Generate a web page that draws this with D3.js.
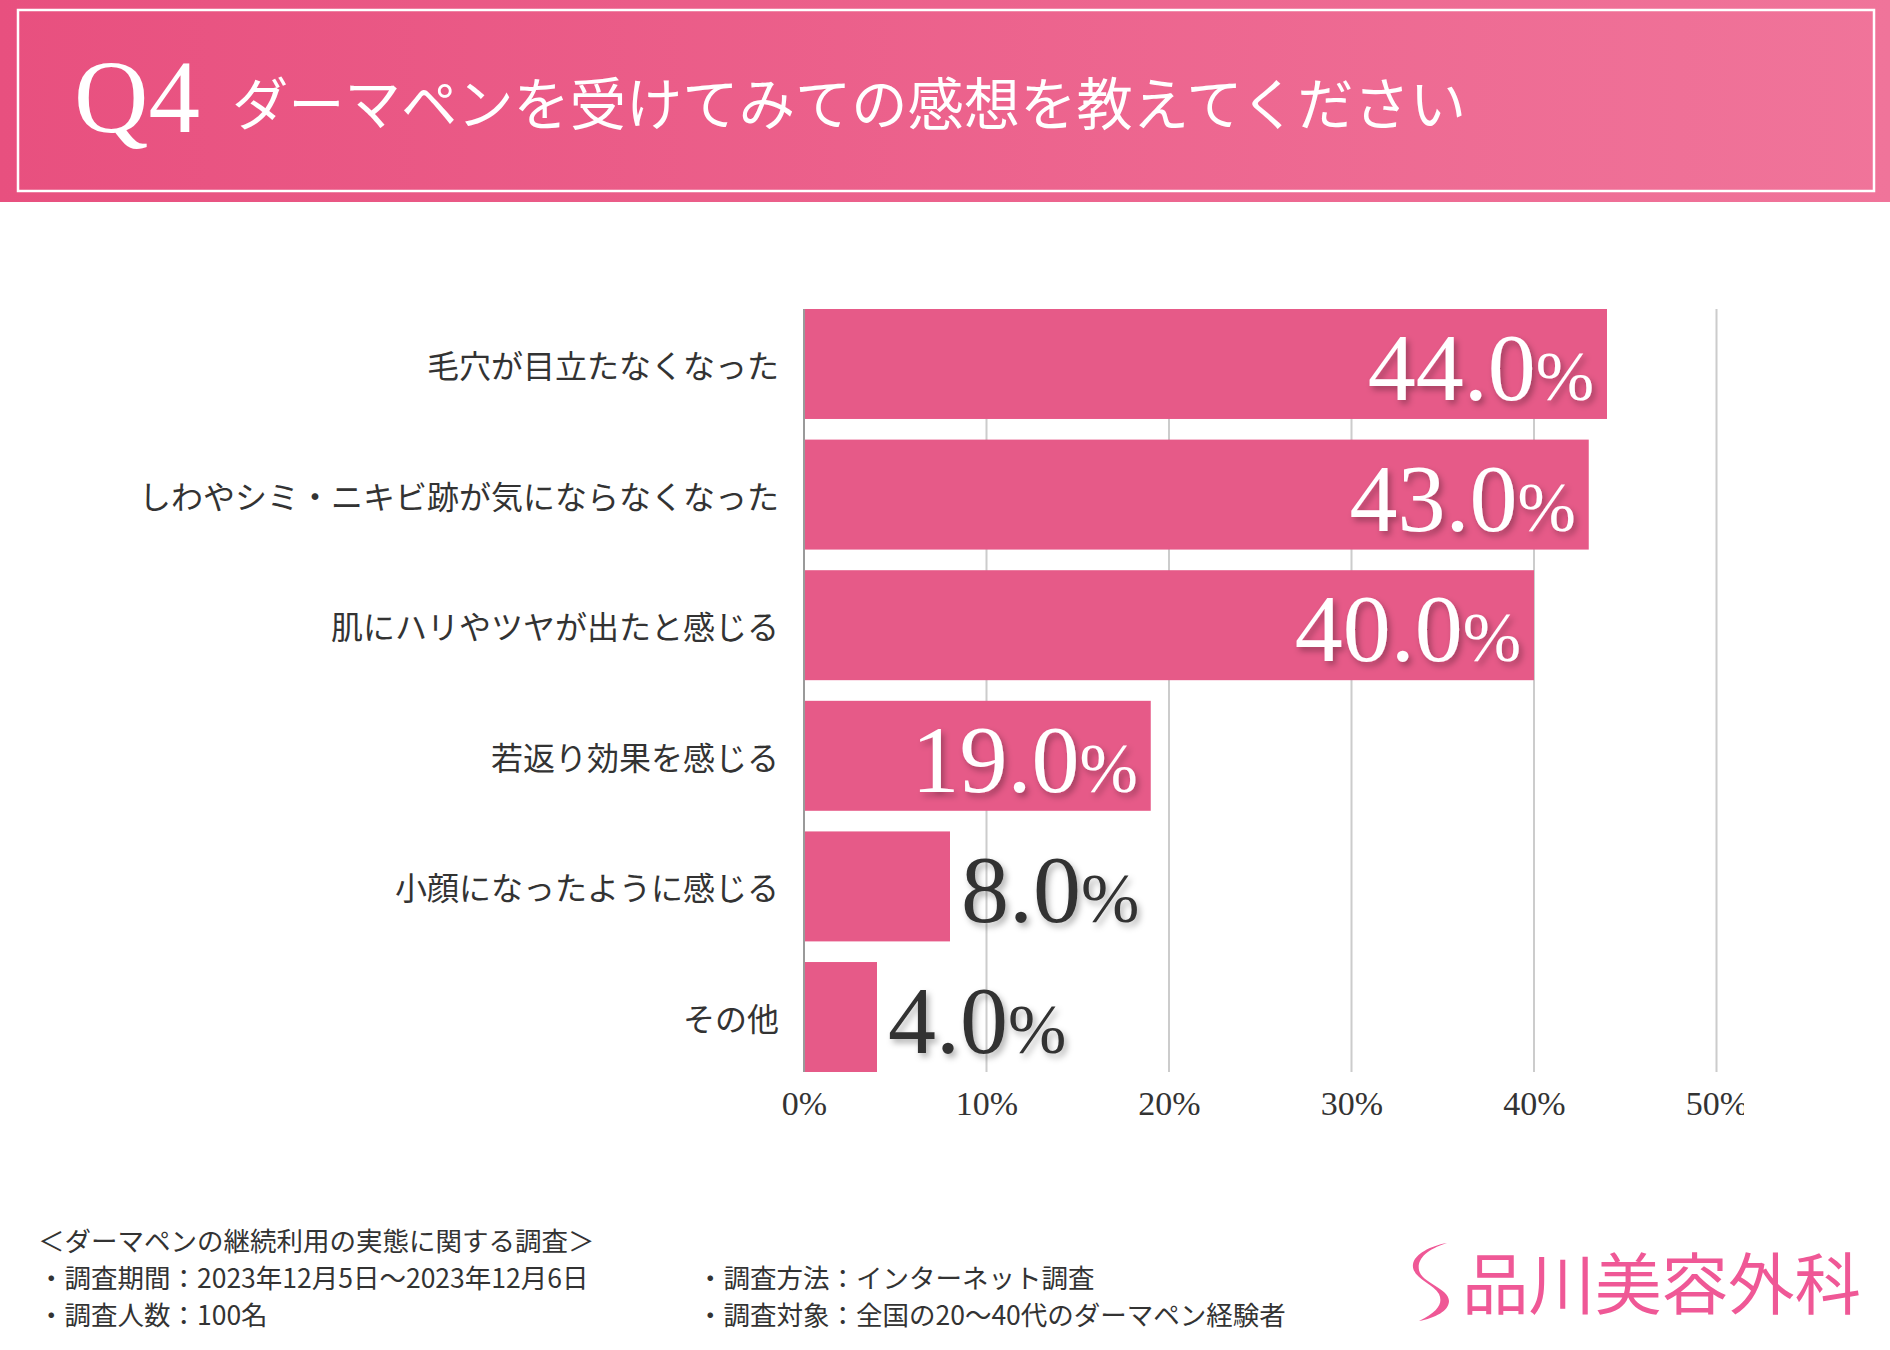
<!DOCTYPE html>
<html>
<head>
<meta charset="utf-8">
<script src="https://cdn.jsdelivr.net/npm/d3@7"></script>
<style>
  body { margin: 0; background: #ffffff; }
  svg { display: block; }
</style>
</head>
<body>
<div id="chart"></div>
<script>

// chart data
var categories = ["毛穴が目立たなくなった", "しわやシミ・ニキビ跡が気にならなくなった",
  "肌にハリやツヤが出たと感じる", "若返り効果を感じる", "小顔になったように感じる", "その他"];
var values = [44.0, 43.0, 40.0, 19.0, 8.0, 4.0];
var tickValues = [0, 10, 20, 30, 40, 50];

// texts
var qNumber = "Q4";
var title = "ダーマペンを受けてみての感想を教えてください";
var surveyTitle = "＜ダーマペンの継続利用の実態に関する調査＞";
var surveyLeft = ["・調査期間：2023年12月5日〜2023年12月6日", "・調査人数：100名"];
var surveyRight = ["・調査方法：インターネット調査", "・調査対象：全国の20〜40代のダーマペン経験者"];
var logoText = "品川美容外科";

var width = 1890, height = 1350;
var serif = "'Liberation Serif', 'DejaVu Serif', serif";
var jp = "'Noto Sans CJK JP', 'Noto Sans', sans-serif";

var svg = d3.select("#chart").append("svg")
  .attr("width", width)
  .attr("height", height);

var defs = svg.append("defs");

// header gradient
var grad = defs.append("linearGradient")
  .attr("id", "headGrad")
  .attr("x1", "0%").attr("x2", "100%")
  .attr("y1", "0%").attr("y2", "0%");
grad.append("stop").attr("offset", "0%").attr("stop-color", "#e8507f");
grad.append("stop").attr("offset", "100%").attr("stop-color", "#f0749a");

// soft shadow for value labels
var shadow = defs.append("filter")
  .attr("id", "shadow")
  .attr("x", "-20%").attr("y", "-20%")
  .attr("width", "140%").attr("height", "140%");
shadow.append("feDropShadow")
  .attr("dx", 3).attr("dy", 4)
  .attr("stdDeviation", 3)
  .attr("flood-color", "#000")
  .attr("flood-opacity", 0.3);

// clip for the axis labels (last one is cut off on the right)
defs.append("clipPath").attr("id", "tickClip")
  .append("rect")
  .attr("x", 0).attr("y", -60)
  .attr("width", 1744).attr("height", 120);

// header band
svg.append("rect")
  .attr("x", 0).attr("y", 0)
  .attr("width", width).attr("height", 202)
  .attr("fill", "url(#headGrad)");

svg.append("rect")
  .attr("x", 18).attr("y", 10)
  .attr("width", 1856).attr("height", 181)
  .attr("fill", "none")
  .attr("stroke", "#ffffff")
  .attr("stroke-width", 2.5);

svg.append("text")
  .attr("x", 74).attr("y", 132)
  .attr("font-family", serif)
  .attr("font-size", 103)
  .attr("fill", "#ffffff")
  .text(qNumber);

svg.append("text")
  .attr("x", 232).attr("y", 100)
  .attr("dominant-baseline", "central")
  .attr("font-family", jp)
  .attr("font-size", 56.3)
  .attr("fill", "#ffffff")
  .text(title);

// scales
var x = d3.scaleLinear()
  .domain([0, 50])
  .range([804, 1716.5]);

var y = d3.scaleBand()
  .domain(categories)
  .range([309, 1072])
  .paddingInner(0.158)
  .paddingOuter(0);

// grid lines
svg.append("g")
  .selectAll("line")
  .data(tickValues.slice(1))
  .enter()
  .append("line")
  .attr("x1", function(d) { return x(d); })
  .attr("x2", function(d) { return x(d); })
  .attr("y1", 309).attr("y2", 1072)
  .attr("stroke", "#cccccc")
  .attr("stroke-width", 2);

// bars
svg.append("g")
  .selectAll("rect")
  .data(values)
  .enter()
  .append("rect")
  .attr("x", x(0))
  .attr("y", function(d, i) { return y(categories[i]); })
  .attr("width", function(d) { return x(d) - x(0); })
  .attr("height", y.bandwidth())
  .attr("fill", "#e65a88");

// zero axis line
svg.append("line")
  .attr("x1", x(0)).attr("x2", x(0))
  .attr("y1", 309).attr("y2", 1072)
  .attr("stroke", "#9a9a9a")
  .attr("stroke-width", 2);

// x axis labels
var xAxis = d3.axisBottom(x)
  .tickValues(tickValues)
  .tickSize(0)
  .tickPadding(0)
  .tickFormat(function(d) { return d + "%"; });

var axisG = svg.append("g")
  .attr("transform", "translate(0,1103)")
  .attr("clip-path", "url(#tickClip)")
  .call(xAxis);
axisG.select(".domain").remove();
axisG.selectAll("text")
  .attr("y", 0)
  .attr("dy", "0.35em")
  .attr("font-family", serif)
  .attr("font-size", 34)
  .attr("fill", "#333333");

// category labels
svg.append("g")
  .selectAll("text")
  .data(categories)
  .enter()
  .append("text")
  .attr("x", 779)
  .attr("y", function(d) { return y(d) + y.bandwidth() / 2; })
  .attr("dominant-baseline", "central")
  .attr("text-anchor", "end")
  .attr("font-family", jp)
  .attr("font-size", 32)
  .attr("fill", "#333333")
  .text(function(d) { return d; });

// value labels, inside the bar when it is long enough
var labels = svg.append("g")
  .selectAll("text")
  .data(values)
  .enter()
  .append("text")
  .attr("filter", "url(#shadow)")
  .attr("font-family", serif)
  .attr("y", function(d, i) { return y(categories[i]) + y.bandwidth() / 2 + 36; })
  .attr("x", function(d) { return d >= 15 ? x(d) - 13 : x(d) + 11; })
  .attr("text-anchor", function(d) { return d >= 15 ? "end" : "start"; })
  .attr("fill", function(d) { return d >= 15 ? "#ffffff" : "#333333"; });

labels.append("tspan")
  .attr("font-size", 96)
  .text(function(d) { return d.toFixed(1); });

labels.append("tspan")
  .attr("font-size", 70)
  .text("%");

// survey notes
var notes = svg.append("g")
  .attr("font-family", jp)
  .attr("font-size", 26.5)
  .attr("fill", "#333333");

notes.append("text")
  .attr("x", 38).attr("y", 1239)
  .attr("dominant-baseline", "central")
  .text(surveyTitle);

notes.selectAll(".left")
  .data(surveyLeft)
  .enter()
  .append("text")
  .attr("class", "left")
  .attr("x", 38)
  .attr("y", function(d, i) { return 1276 + i * 37; })
  .attr("dominant-baseline", "central")
  .text(function(d) { return d; });

notes.selectAll(".right")
  .data(surveyRight)
  .enter()
  .append("text")
  .attr("class", "right")
  .attr("x", 697)
  .attr("y", function(d, i) { return 1276 + i * 37; })
  .attr("dominant-baseline", "central")
  .text(function(d) { return d; });

// logo
svg.append("path")
  .attr("d", "M1447,1243 C1425,1250 1417,1260 1419,1270 C1421,1283 1449,1288 1449,1301 "
    + "C1449,1311 1435,1318 1419,1321 C1439,1311 1443,1303 1439,1294 "
    + "C1433,1283 1411,1278 1413,1264 C1415,1254 1430,1246 1447,1243 Z")
  .attr("fill", "#ef5896");

svg.append("text")
  .attr("x", 1462).attr("y", 1280)
  .attr("dominant-baseline", "central")
  .attr("font-family", jp)
  .attr("font-size", 66.5)
  .attr("fill", "#ef5896")
  .text(logoText);

</script>
</body>
</html>
